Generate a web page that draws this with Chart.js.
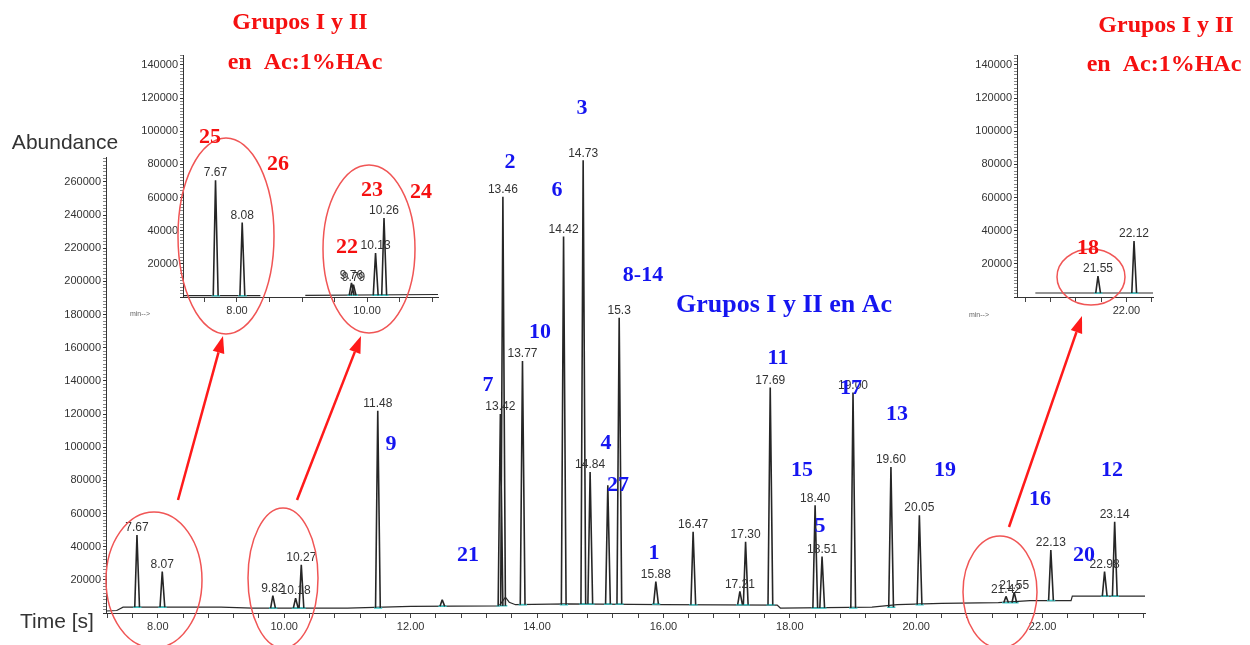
<!DOCTYPE html>
<html>
<head>
<meta charset="utf-8">
<script src="https://cdn.jsdelivr.net/npm/chart.js@4.4.0/dist/chart.umd.min.js"></script>
<style>
  html, body { margin: 0; padding: 0; background: #fff; }
  #wrap { position: relative; width: 1250px; height: 645px; overflow: hidden; }
  canvas { position: absolute; }
  #main { left: 0; top: 0; z-index: 2; }
  #insetA { left: 100px; top: 40px; z-index: 1; }
  #insetB { left: 950px; top: 40px; z-index: 1; }
</style>
</head>
<body>
<div id="wrap">
  <canvas id="insetA" width="350" height="290"></canvas>
  <canvas id="insetB" width="300" height="290"></canvas>
  <canvas id="main" width="1250" height="645"></canvas>
</div>
<script>
////////////////////////////MAIN CHROMATOGRAM (Grupos I y II en Ac)
const mainPeakTimes = [7.67, 8.07, 9.82, 10.18, 10.27, 11.48, 12.50, 13.42, 13.46, 13.77, 14.42, 14.73, 14.84, 15.12, 15.30,
    15.88, 16.47, 17.21, 17.30, 17.69, 18.40, 18.51, 19.00, 19.60, 20.05, 21.42, 21.55, 22.13, 22.98, 23.14];
const mainPeakHeights = [47000, 25000, 10500, 9000, 29000, 122000, 8000, 120000, 251000, 152000, 227000, 273000, 85000, 77000, 178000,
    19000, 49000, 13000, 43000, 136000, 65000, 34000, 133000, 88000, 59000, 10000, 12500, 38000, 25000, 55000];
const mainPeakLabels = ['7.67', '8.07', '9.82', '10.18', '10.27', '11.48', '', '13.42', '13.46', '13.77', '14.42', '14.73', '14.84', '', '15.3',
    '15.88', '16.47', '17.21', '17.30', '17.69', '18.40', '18.51', '19.00', '19.60', '20.05', '21.42', '21.55', '22.13', '22.98', '23.14'];
const mainBaseTimes  = [7.18, 7.35, 7.45, 9.00, 9.50, 11.00, 12.00, 13.40, 13.50, 13.56, 13.66, 14.50, 16.00, 17.80, 17.85, 19.30, 19.70, 20.40, 21.30, 21.80, 22.45, 22.47, 23.62];
const mainBaseLevels = [1200, 1500, 3500, 3500, 3000, 3000, 4000, 4300, 9500, 6500, 5000, 5500, 5000, 4800, 3000, 3500, 5000, 5800, 6200, 7500, 7500, 10200, 10200];
const mainXTickValues = [8, 10, 12, 14, 16, 18, 20, 22];
const mainXTickLabels = ['8.00', '10.00', '12.00', '14.00', '16.00', '18.00', '20.00', '22.00'];
const mainYTickValues = [20000, 40000, 60000, 80000, 100000, 120000, 140000, 160000, 180000, 200000, 220000, 240000, 260000];

////////////////////////////INSET 1 (Grupos I y II en Ac:1%HAc, 7-11 min)
const insetAPeakTimes = [7.67, 8.08, 9.76, 9.79, 10.13, 10.26];
const insetAPeakHeights = [70500, 45000, 8500, 7500, 26500, 47600];
const insetAPeakLabels = ['7.67', '8.08', '9.76', '9.79', '10.13', '10.26'];
const insetABaseTimes  = [7.17, 8.36, 8.37, 9.05, 11.09];
const insetABaseLevels = [800, 800, null, 1000, 1500];
const insetAXTickValues = [8, 10];
const insetAXTickLabels = ['8.00', '10.00'];

////////////////////////////INSET 2 (Grupos I y II en Ac:1%HAc, 20-22 min)
const insetBPeakTimes = [21.55, 22.12];
const insetBPeakHeights = [12600, 33700];
const insetBPeakLabels = ['21.55', '22.12'];
const insetBBaseTimes  = [20.56, 22.42];
const insetBBaseLevels = [2400, 2400];
const insetBXTickValues = [22];
const insetBXTickLabels = ['22.00'];
const insetYTickValues = [20000, 40000, 60000, 80000, 100000, 120000, 140000];

Chart.defaults.font.family = '"Liberation Sans", Arial, sans-serif';
Chart.defaults.color = '#333';

function baseAt(times, levels, t) {
    let b = levels[0];
    for (let i = 0; i < times.length; i++) {
        if (times[i] <= t && levels[i] !== null) b = levels[i];
    }
    return b;
}

// peaks as thin spikes on top of the baseline, cyan integration marks at their foot
function buildTraces(peakTimes, peakHeights, baseTimes, baseLevels) {
    const baseline = baseTimes.map((t, i) => ({ x: t, y: baseLevels[i] }));
    const peaks = [];
    const marks = [];
    peakTimes.forEach((t, i) => {
        const b = baseAt(baseTimes, baseLevels, t);
        peaks.push({ x: t - 0.035, y: b }, { x: t, y: peakHeights[i] }, { x: t + 0.04, y: b }, { x: t + 0.04, y: null });
        marks.push({ x: t - 0.06, y: b }, { x: t + 0.07, y: b }, { x: t + 0.07, y: null });
    });
    return { baseline, peaks, marks };
}

function steps(from, to, step) {
    const out = [];
    for (let v = from; v <= to + 1e-9; v += step) out.push(Math.round(v * 1000) / 1000);
    return out;
}

function xAxis(min, max, minor, labelVals, labelTexts, height) {
    return {
        type: 'linear', min: min, max: max,
        afterBuildTicks: s => { s.ticks = minor.map(v => ({ value: v })); },
        afterFit: s => { s.height = height; },
        ticks: {
            autoSkip: false, maxRotation: 0, padding: 2, color: '#333', font: { size: 11 },
            callback: v => {
                const k = labelVals.findIndex(l => Math.abs(l - v) < 1e-6);
                return k < 0 ? '' : labelTexts[k];
            }
        },
        grid: { drawOnChartArea: false, drawTicks: true, tickLength: 5, color: '#444' },
        border: { display: true, color: '#333', width: 1 }
    };
}

function yAxis(max, minor, labelVals, width) {
    return {
        type: 'linear', min: 0, max: max,
        afterBuildTicks: s => { s.ticks = minor.map(v => ({ value: v })); },
        afterFit: s => { s.width = width; },
        ticks: {
            autoSkip: false, padding: 2, color: '#333', font: { size: 11 },
            callback: v => (labelVals.indexOf(v) < 0 ? '' : String(v))
        },
        grid: {
            drawOnChartArea: false, drawTicks: true, tickLength: 3,
            tickColor: c => (c.tick && c.tick.value % 20000 === 0 ? '#333' : '#888')
        },
        border: { display: true, color: '#333', width: 1 }
    };
}

const peakLabelPlugin = {
    id: 'peakLabels',
    afterDatasetsDraw(chart, args, opts) {
        if (!opts.times) return;
        const { ctx } = chart;
        const x = chart.scales.x, y = chart.scales.y;
        ctx.save();
        ctx.font = '12px "Liberation Sans", Arial, sans-serif';
        ctx.fillStyle = '#333';
        ctx.textAlign = 'center';
        ctx.textBaseline = 'bottom';
        opts.times.forEach((t, i) => {
            if (!opts.labels[i]) return;
            ctx.fillText(opts.labels[i], x.getPixelForValue(t), y.getPixelForValue(opts.heights[i]) - 1);
        });
        ctx.restore();
    }
};

function makeChart(id, traces, xScale, yScale, padding, labelOpts, extraPlugins) {
    return new Chart(document.getElementById(id), {
        type: 'line',
        data: {
            datasets: [
                { data: traces.peaks, borderColor: '#262626', borderWidth: 1.6, borderJoinStyle: 'bevel', pointRadius: 0, spanGaps: false },
                { data: traces.marks, borderColor: '#3cc8c8', borderWidth: 1.5, pointRadius: 0, spanGaps: false },
                { data: traces.baseline, borderColor: '#2a2a2a', borderWidth: 1.2, pointRadius: 0, spanGaps: false }
            ]
        },
        options: {
            responsive: false,
            animation: false,
            devicePixelRatio: 1,
            layout: { padding: padding },
            scales: { x: xScale, y: yScale },
            plugins: {
                legend: { display: false },
                tooltip: { enabled: false },
                peakLabels: labelOpts
            },
            elements: { line: { tension: 0 } }
        },
        plugins: [peakLabelPlugin].concat(extraPlugins || [])
    });
}

////////////////////////////ANNOTATIONS (red / blue notes, circles and arrows)
const redNotes = [
    ['Grupos I y II', 300, 23, 24], ['en  Ac:1%HAc', 305, 63, 24],
    ['Grupos I y II', 1166, 26, 24], ['en  Ac:1%HAc', 1164, 65, 24],
    ['25', 210, 137, 22], ['26', 278, 164, 22], ['23', 372, 190, 22], ['24', 421, 192, 22],
    ['22', 347, 247, 22], ['18', 1088, 248, 22]
];
const blueNotes = [
    ['Grupos I y II en Ac', 784, 305, 26],
    ['3', 582, 108, 22], ['2', 510, 162, 22], ['6', 557, 190, 22], ['8-14', 643, 275, 22],
    ['10', 540, 332, 22], ['11', 778, 358, 22], ['7', 488, 385, 22], ['17', 851, 388, 22],
    ['13', 897, 414, 22], ['9', 391, 444, 22], ['4', 606, 443, 22], ['15', 802, 470, 22],
    ['19', 945, 470, 22], ['12', 1112, 470, 22], ['27', 618, 485, 22], ['16', 1040, 499, 22],
    ['5', 820, 526, 22], ['1', 654, 553, 22], ['20', 1084, 555, 22], ['21', 468, 555, 22]
];
const circles = [[226, 236, 48, 98], [369, 249, 46, 84], [154, 580, 48, 68], [283, 578, 35, 70], [1000, 592, 37, 56], [1091, 277, 34, 28]];
const arrows = [[178, 500, 223, 336], [297, 500, 361, 336], [1009, 527, 1082, 316]];

const notesPlugin = {
    id: 'notes',
    afterDraw(chart) {
        const ctx = chart.ctx;
        ctx.save();
        ctx.textAlign = 'center';
        ctx.textBaseline = 'middle';
        ctx.fillStyle = '#333';
        ctx.font = '21px "Liberation Sans", Arial, sans-serif';
        ctx.fillText('Abundance', 65, 143);
        ctx.fillText('Time [s]', 57, 622);
        ctx.font = '7px "Liberation Sans", Arial, sans-serif';
        ctx.fillStyle = '#666';
        ctx.fillText('min-->', 140, 314);
        ctx.fillText('min-->', 979, 315);

        ctx.strokeStyle = '#f05555';
        ctx.lineWidth = 1.5;
        circles.forEach(c => {
            ctx.beginPath();
            ctx.ellipse(c[0], c[1], c[2], c[3], 0, 0, Math.PI * 2);
            ctx.stroke();
        });

        ctx.strokeStyle = '#ff1a1a';
        ctx.fillStyle = '#ff1a1a';
        ctx.lineWidth = 2.5;
        arrows.forEach(a => {
            const ang = Math.atan2(a[3] - a[1], a[2] - a[0]);
            const len = 17, half = 6;
            const bx = a[2] - len * Math.cos(ang), by = a[3] - len * Math.sin(ang);
            ctx.beginPath();
            ctx.moveTo(a[0], a[1]);
            ctx.lineTo(bx, by);
            ctx.stroke();
            ctx.beginPath();
            ctx.moveTo(a[2], a[3]);
            ctx.lineTo(bx + half * Math.sin(ang), by - half * Math.cos(ang));
            ctx.lineTo(bx - half * Math.sin(ang), by + half * Math.cos(ang));
            ctx.closePath();
            ctx.fill();
        });

        ctx.fillStyle = '#f51010';
        redNotes.forEach(n => {
            ctx.font = 'bold ' + n[3] + 'px "Liberation Serif", "Times New Roman", serif';
            ctx.fillText(n[0], n[1], n[2]);
        });
        ctx.fillStyle = '#1515f0';
        blueNotes.forEach(n => {
            ctx.font = 'bold ' + n[3] + 'px "Liberation Serif", "Times New Roman", serif';
            ctx.fillText(n[0], n[1], n[2]);
        });
        ctx.restore();
    }
};

// insets first, main chart (with the notes) on top
makeChart('insetA',
    buildTraces(insetAPeakTimes, insetAPeakHeights, insetABaseTimes, insetABaseLevels),
    xAxis(7.17, 11.09, steps(7.5, 11.0, 0.5), insetAXTickValues, insetAXTickLabels, 33),
    yAxis(146000, steps(0, 146000, 2000), insetYTickValues, 83),
    { left: 0, right: 12, top: 15, bottom: 0 },
    { times: insetAPeakTimes, heights: insetAPeakHeights, labels: insetAPeakLabels });

makeChart('insetB',
    buildTraces(insetBPeakTimes, insetBPeakHeights, insetBBaseTimes, insetBBaseLevels),
    xAxis(20.27, 22.42, steps(20.4, 22.4, 0.4), insetBXTickValues, insetBXTickLabels, 33),
    yAxis(146000, steps(0, 146000, 2000), insetYTickValues, 67),
    { left: 0, right: 97, top: 15, bottom: 0 },
    { times: insetBPeakTimes, heights: insetBPeakHeights, labels: insetBPeakLabels });

makeChart('main',
    buildTraces(mainPeakTimes, mainPeakHeights, mainBaseTimes, mainBaseLevels),
    xAxis(7.18, 23.62, steps(7.2, 23.6, 0.4), mainXTickValues, mainXTickLabels, 32),
    yAxis(275000, steps(0, 274000, 2000), mainYTickValues, 106),
    { left: 0, right: 105, top: 157, bottom: 0 },
    { times: mainPeakTimes, heights: mainPeakHeights, labels: mainPeakLabels },
    [notesPlugin]);
</script>
</body>
</html>
